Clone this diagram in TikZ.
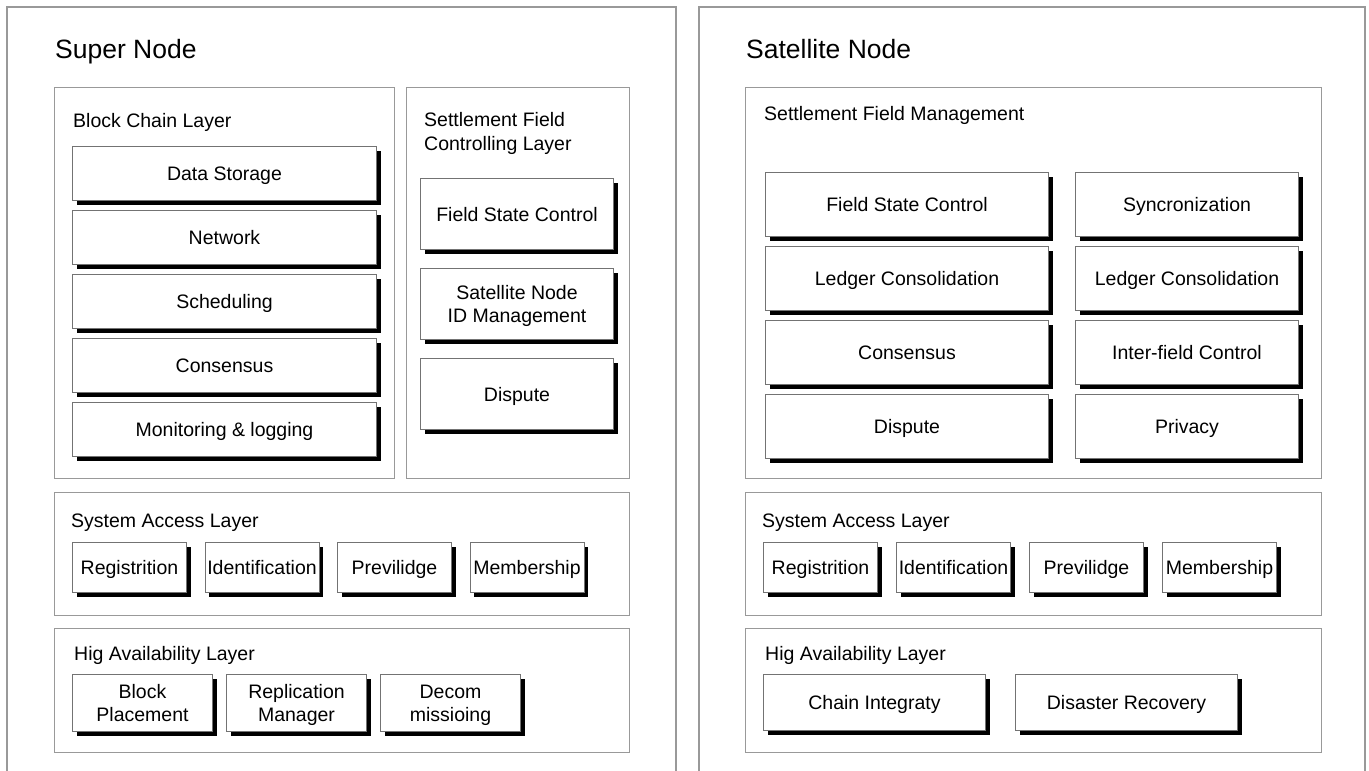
\documentclass[tikz,border=0pt]{standalone}
\usepackage{fontspec}
\setmainfont{Liberation Sans}
\usepackage{tikz}
\usetikzlibrary{positioning, shadows}
\tikzset{Frame/.style={draw=black!40, line width=1.3pt}}
\tikzset{Layer/.style={draw=black!40, line width=1.3pt, anchor=north west, inner sep=0pt}}
\tikzset{Lbl/.style={anchor=base west, inner sep=0pt, align=left,
    font=\fontsize{19.5}{23.5}\selectfont}}
\tikzset{Ttl/.style={anchor=base west, inner sep=0pt, font=\fontsize{26.5}{30}\selectfont}}
\tikzset{Blk/.style={draw=black!55, line width=1pt, fill=white, inner sep=0pt,
    align=center, font=\fontsize{19.5}{23.5}\selectfont,
    drop shadow={shadow xshift=4pt, shadow yshift=-4pt, fill=black, opacity=1}}}
\tikzset{Box/.style={Blk, text height=17pt, text depth=3pt}}
\tikzset{Box2/.style={Blk, text height=40.5pt, text depth=3pt}}
\tikzset{Dim/.style 2 args={minimum width=#1pt, minimum height=#2pt}}

\begin{document}
\begin{tikzpicture}[x=1pt, y=-1pt]
    \useasboundingbox (0,0) rectangle (1369,771);

    %% Super node
    \draw [Frame] (7,775) -- (7,7) -- (676,7) -- (676,775);
    \node [Ttl] (sn) at (55,58) {Super Node};

    \node [Layer, Dim={340}{391}] (bcl) at (54,87) {};
    \node [Lbl] (bcll) at (73,127) {Block Chain Layer};
    \node [Box, Dim={304}{54}, anchor=north west] (ds) at (72,146) {Data Storage};
    \node [Box, Dim={304}{54}, below=9pt of ds] (nw) {Network};
    \node [Box, Dim={304}{54}, below=9pt of nw] (sch) {Scheduling};
    \node [Box, Dim={304}{54}, below=9pt of sch] (cns) {Consensus};
    \node [Box, Dim={304}{54}, below=9pt of cns] (mon) {Monitoring \& logging};

    \node [Layer, Dim={223}{391}] (sfc) at (406,87) {};
    \node [Lbl] (sfcl) at (424,150) {Settlement Field\\Controlling Layer};
    \node [Box, Dim={193}{71}, anchor=north west] (fsc) at (420,178) {Field State Control};
    \node [Box2, Dim={193}{71}, below=18pt of fsc] (sni) {Satellite Node\\ID Management};
    \node [Box, Dim={193}{71}, below=18pt of sni] (dsp) {Dispute};

    \node [Layer, Dim={575}{123}] (sal) at (54,492) {};
    \node [Lbl] (sall) at (71,527) {System Access Layer};
    \node [Box, Dim={114}{50}, anchor=north west] (reg) at (72,542) {Registrition};
    \node [Box, Dim={114}{50}, right=17.5pt of reg] (idf) {Identification};
    \node [Box, Dim={114}{50}, right=17.5pt of idf] (prv) {Previlidge};
    \node [Box, Dim={114}{50}, right=17.5pt of prv] (mem) {Membership};

    \node [Layer, Dim={575}{124}] (hal) at (54,628) {};
    \node [Lbl] (hall) at (74,660) {Hig Availability Layer};
    \node [Box2, Dim={140}{57}, anchor=north west] (blp) at (72,674) {Block\\Placement};
    \node [Box2, Dim={140}{57}, right=13pt of blp] (rpm) {Replication\\Manager};
    \node [Box2, Dim={140}{57}, right=13pt of rpm] (dcm) {Decom\\missioing};

    %% Satellite node
    \draw [Frame] (699,775) -- (699,7) -- (1365,7) -- (1365,775);
    \node [Ttl] (stn) at (746,58) {Satellite Node};

    \node [Layer, Dim={576}{391}] (sfm) at (745,87) {};
    \node [Lbl] (sfml) at (764,120) {Settlement Field Management};
    \node [Box, Dim={283}{64}, anchor=north west] (fsc2) at (765,172) {Field State Control};
    \node [Box, Dim={283}{64}, below=9pt of fsc2] (lgc) {Ledger Consolidation};
    \node [Box, Dim={283}{64}, below=9pt of lgc] (cns2) {Consensus};
    \node [Box, Dim={283}{64}, below=9pt of cns2] (dsp2) {Dispute};
    \node [Box, Dim={223}{64}, anchor=north west] (syn) at (1075,172) {Syncronization};
    \node [Box, Dim={223}{64}, below=9pt of syn] (lgc2) {Ledger Consolidation};
    \node [Box, Dim={223}{64}, below=9pt of lgc2] (ifc) {Inter-field Control};
    \node [Box, Dim={223}{64}, below=9pt of ifc] (pvc) {Privacy};

    \node [Layer, Dim={576}{123}] (sal2) at (745,492) {};
    \node [Lbl] (sall2) at (762,527) {System Access Layer};
    \node [Box, Dim={114}{50}, anchor=north west] (reg2) at (763,542) {Registrition};
    \node [Box, Dim={114}{50}, right=18pt of reg2] (idf2) {Identification};
    \node [Box, Dim={114}{50}, right=18pt of idf2] (prv2) {Previlidge};
    \node [Box, Dim={114}{50}, right=18pt of prv2] (mem2) {Membership};

    \node [Layer, Dim={576}{124}] (hal2) at (745,628) {};
    \node [Lbl] (hall2) at (765,660) {Hig Availability Layer};
    \node [Box, Dim={222}{56}, anchor=north west] (chi) at (763,674) {Chain Integraty};
    \node [Box, Dim={222}{56}, right=29pt of chi] (dsr) {Disaster Recovery};

\end{tikzpicture}
\end{document}
